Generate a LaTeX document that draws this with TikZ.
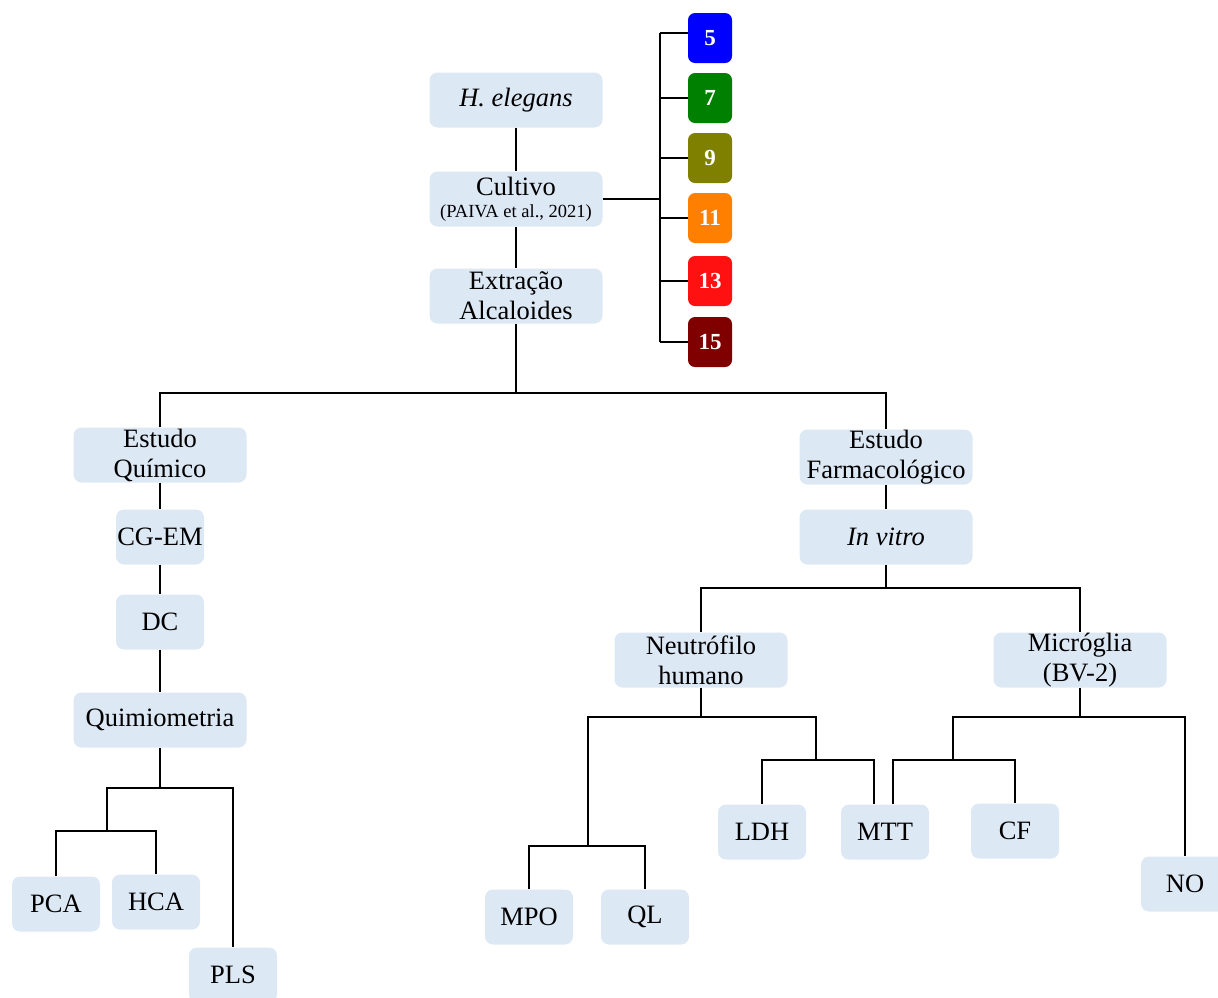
\documentclass[tikz,border=0pt]{standalone}
\usepackage{fontspec}
\setmainfont{Liberation Serif}
\definecolor{boxfill}{RGB}{221,232,245}
\definecolor{c5col}{RGB}{0,0,255}
\definecolor{c7col}{RGB}{0,128,0}
\definecolor{c9col}{RGB}{128,128,0}
\definecolor{c11col}{RGB}{255,128,0}
\definecolor{c13col}{RGB}{255,17,17}
\definecolor{c15col}{RGB}{128,0,0}
\begin{document}
\begin{tikzpicture}[x=1pt,y=-1pt,
  bigbox/.style={fill=boxfill, rounded corners=8pt, minimum width=173pt, minimum height=55pt, inner sep=0pt, align=center, font=\fontsize{26.5}{30}\selectfont},
  smallbox/.style={fill=boxfill, rounded corners=8pt, minimum width=88pt, minimum height=55pt, inner sep=0pt, align=center, font=\fontsize{26.5}{30}\selectfont},
  numbox/.style={fill=#1, rounded corners=7pt, minimum width=44pt, minimum height=50pt, inner sep=0pt, text=white, font=\bfseries\fontsize{23}{26}\selectfont},
  link/.style={draw=black, line width=1.2pt}
]
\useasboundingbox (0,0) rectangle (1218,997);

% top column
\node[bigbox] (hel) at (516,100) {\textit{H. elegans}};
\node[bigbox] (cult) at (516,199) {Cultivo\\[-8pt]{\fontsize{18.5}{20}\selectfont (PAIVA et al., 2021)}};
\node[bigbox] (extr) at (516,296) {Extração\\Alcaloides};

% coloured boxes
\node[numbox=c5col] (c5) at (710,38) {5};
\node[numbox=c7col] (c7) at (710,98) {7};
\node[numbox=c9col] (c9) at (710,158) {9};
\node[numbox=c11col] (c11) at (710,218) {11};
\node[numbox=c13col] (c13) at (710,281) {13};
\node[numbox=c15col] (c15) at (710,342) {15};
\coordinate (bt) at (660,33);
\coordinate (bb) at (660,342);

% left branch
\node[bigbox] (eq) at (160,455) {Estudo\\Químico};
\node[smallbox] (cgem) at (160,537) {CG-EM};
\node[smallbox] (dc) at (160,622) {DC};
\node[bigbox] (quim) at (160,720) {Quimiometria};
\node[smallbox] (pca) at (56,904) {PCA};
\node[smallbox] (hca) at (156,902) {HCA};
\node[smallbox] (pls) at (233,975) {PLS};

% right branch
\node[bigbox] (ef) at (886,457) {Estudo\\Farmacológico};
\node[bigbox] (iv) at (886,537) {\textit{In vitro}};
\node[bigbox] (nh) at (701,660) {Neutrófilo\\humano};
\node[bigbox] (mic) at (1080,660) {Micróglia\\(BV-2)};
\node[smallbox] (mpo) at (529,917) {MPO};
\node[smallbox] (ql) at (645,917) {QL};
\node[smallbox] (ldh) at (762,832) {LDH};
\node[smallbox] (mtt) at (885,832) {MTT};
\node[smallbox] (cf) at (1015,831) {CF};
\node[smallbox] (no) at (1185,884) {NO};

% junction coordinates
\coordinate (j0) at (516,393);
\coordinate (qj) at (160,788);
\coordinate (pj) at (107,831);
\coordinate (ij) at (886,588);
\coordinate (nj) at (701,717);
\coordinate (lj) at (588,846);
\coordinate (rj) at (816,760);
\coordinate (mj) at (1080,717);
\coordinate (mj2) at (953,760);

% connectors top
\draw[link] (hel) -- (cult);
\draw[link] (cult) -- (extr);
\draw[link] (bt) -- (bb);
\draw[link] (cult.east) -- (cult.east -| bt);
\draw[link] (c5.west |- bt) -- (bt);
\draw[link] (c7.west) -- (c7.west -| bt);
\draw[link] (c9.west) -- (c9.west -| bt);
\draw[link] (c11.west) -- (c11.west -| bt);
\draw[link] (c13.west) -- (c13.west -| bt);
\draw[link] (c15.west) -- (c15.west -| bt);

% main split
\draw[link] (extr.south) -- (j0);
\draw[link] (eq.north) |- (j0) -| (ef.north);

% left
\draw[link] (eq) -- (cgem);
\draw[link] (cgem) -- (dc);
\draw[link] (dc) -- (quim);
\draw[link] (quim.south) -- (qj);
\draw[link] (pj) |- (qj) -| (pls.north);
\draw[link] (pca.north) |- (pj) -| (hca.north);

% right
\draw[link] (ef) -- (iv);
\draw[link] (iv.south) -- (ij);
\draw[link] (nh.north) |- (ij) -| (mic.north);
\draw[link] (nh.south) -- (nj);
\draw[link] (lj) |- (nj) -| (rj);
\draw[link] (mpo.north) |- (lj) -| (ql.north);
\draw[link] (ldh.north) |- (rj) -| ([xshift=-11pt]mtt.north);
\draw[link] (mic.south) -- (mj);
\draw[link] (mj2) |- (mj) -| (no.north);
\draw[link] ([xshift=8pt]mtt.north) |- (mj2) -| (cf.north);
\end{tikzpicture}
\end{document}
